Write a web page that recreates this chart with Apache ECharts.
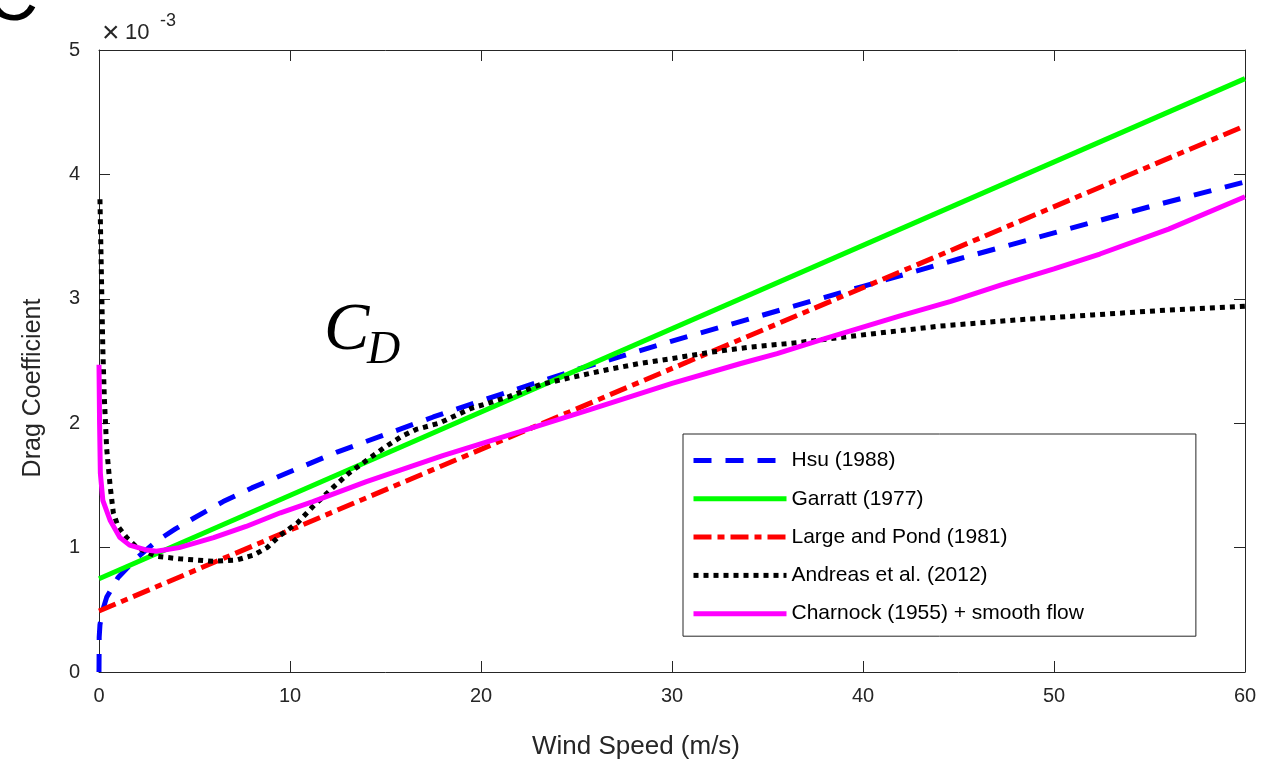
<!DOCTYPE html>
<html>
<head>
<meta charset="utf-8">
<title>Drag Coefficient</title>
<script src="https://cdn.jsdelivr.net/npm/echarts@6/dist/echarts.min.js"></script>
<style>
	html, body { margin: 0; padding: 0; background: #fff; }
	#chart { width: 1271px; height: 763px; }
</style>
</head>
<body>
<div id="chart"></div>
<script>
// values are in units of 1e-3 (the axis shows "x 10^-3")
const seriesNames = ["Hsu (1988)", "Garratt (1977)", "Large and Pond (1981)", "Andreas et al. (2012)", "Charnock (1955) + smooth flow"];
const xTicks = [0, 10, 20, 30, 40, 50, 60];
const yTicks = [0, 1, 2, 3, 4, 5];

const hsu = [
	[0, 0], [0.01, 0.28], [0.05, 0.38], [0.2, 0.5], [0.4, 0.6], [1, 0.76], [2, 0.92], [3, 1.05],
	[4, 1.15], [5, 1.24], [6.5, 1.37], [8, 1.48], [10, 1.61], [12.5, 1.77], [15, 1.91], [17.5, 2.05],
	[20, 2.18], [25, 2.43], [30, 2.66], [35, 2.88], [40, 3.1], [45, 3.32], [50, 3.53], [55, 3.74], [60, 3.94]
];
const garratt = [[0, 0.75], [60, 4.77]];
const largePond = [[0, 0.49], [60, 4.39]];
const andreas = [
	[0.05, 3.8], [0.1, 3.4], [0.15, 3.0], [0.2, 2.6], [0.28, 2.2], [0.4, 1.8], [0.58, 1.5], [0.75, 1.28],
	[1.0, 1.17], [1.45, 1.08], [2, 1.0], [3, 0.93], [4.2, 0.91], [6, 0.89], [7.2, 0.9], [8.1, 0.94],
	[8.8, 1.0], [9.5, 1.1], [10.4, 1.2], [11.2, 1.33], [12.3, 1.49], [13.1, 1.6], [14, 1.7], [14.9, 1.8],
	[15.8, 1.89], [16.6, 1.95], [17.8, 2.0], [19.5, 2.12], [21.4, 2.21], [23.1, 2.31], [24.8, 2.37],
	[26.6, 2.43], [28.3, 2.48], [30, 2.52], [32, 2.57], [34, 2.61], [36.7, 2.65], [40, 2.71], [44, 2.78],
	[48, 2.83], [52, 2.87], [56, 2.91], [60, 2.94]
];
const charnock = [
	[0, 2.47], [0.03, 2.0], [0.07, 1.6], [0.2, 1.38], [0.58, 1.22], [1.1, 1.08], [1.6, 1.02], [2.5, 0.98],
	[3, 0.97], [4.2, 1.0], [6, 1.08], [7.7, 1.17], [9.5, 1.28], [11.2, 1.37], [14, 1.53], [18, 1.74],
	[22, 1.93], [25.7, 2.11], [30, 2.32], [33.6, 2.48], [35.5, 2.56], [38, 2.68], [41.9, 2.86],
	[44.6, 2.98], [47.2, 3.11], [50, 3.24], [52.4, 3.36], [56, 3.56], [60, 3.82]
];

const axisColor = "#262626";
const font = "Liberation Sans, Arial, sans-serif";
const serif = "Liberation Serif, Times New Roman, serif";

const chart = echarts.init(document.getElementById("chart"), null, { renderer: "canvas" });

function axisCommon(pos, show, margin) {
	return {
		position: pos,
		axisLine: { show: true, onZero: false, lineStyle: { color: axisColor, width: 1 } },
		axisTick: { show: true, inside: true, length: 11, lineStyle: { color: axisColor, width: 1 } },
		axisLabel: { show: show, color: axisColor, fontSize: 20, fontFamily: font, margin: margin },
		splitLine: { show: false }
	};
}

const xBase = { type: "value", min: xTicks[0], max: xTicks[xTicks.length - 1], interval: 10 };
const yBase = { type: "value", min: yTicks[0], max: yTicks[yTicks.length - 1], interval: 1 };

const lineSeries = (name, data, color, type, width) => ({
	name: name,
	type: "line",
	data: data,
	symbol: "none",
	showSymbol: false,
	smooth: false,
	clip: true,
	lineStyle: { color: color, width: width, type: type, cap: "butt" },
	itemStyle: { color: color }
});

const option = {
	animation: false,
	grid: { left: 99, right: 26, top: 50, bottom: 91, containLabel: false },
	xAxis: [
		Object.assign({}, xBase, axisCommon("bottom", true, 14)),
		Object.assign({}, xBase, axisCommon("top", false, 8))
	],
	yAxis: [
		Object.assign({}, yBase, axisCommon("left", true, 19)),
		Object.assign({}, yBase, axisCommon("right", false, 8))
	],
	legend: {
		data: seriesNames,
		orient: "vertical",
		left: 683,
		top: 434,
		itemWidth: 93,
		itemHeight: 14,
		itemGap: 17.3,
		padding: [16, 112, 12, 8],
		borderColor: axisColor,
		borderWidth: 1,
		backgroundColor: "#fff",
		itemStyle: { opacity: 0 },
		lineStyle: { width: 5 },
		textStyle: { color: "#000", fontSize: 21, fontFamily: font }
	},
	graphic: [
		{ type: "text", left: 102, top: 19, style: { text: "\u00d7", fontSize: 30, fontFamily: font, fill: axisColor } },
		{ type: "text", left: 125, top: 22, style: { text: "10", fontSize: 22, fontFamily: font, fill: axisColor } },
		{ type: "text", left: 160, top: 12, style: { text: "-3", fontSize: 18, fontFamily: font, fill: axisColor } },
		{ type: "text", left: 324, top: 297, style: { text: "C", fontSize: 68, fontStyle: "italic", fontFamily: serif, fill: "#000" } },
		{ type: "text", left: 367, top: 328, style: { text: "D", fontSize: 46, fontStyle: "italic", fontFamily: serif, fill: "#000" } },
		{ type: "text", left: -14, top: -36, style: { text: "C", fontSize: 72, fontFamily: font, fill: "#000" } },
		{ type: "text", x: 636, y: 747, style: { text: "Wind Speed (m/s)", fontSize: 26, fontFamily: font, fill: axisColor, align: "center", verticalAlign: "middle" } },
		{ type: "text", x: 33, y: 388, rotation: Math.PI / 2, style: { text: "Drag Coefficient", fontSize: 25, fontFamily: font, fill: axisColor, align: "center", verticalAlign: "middle" } }
	],
	series: [
		lineSeries(seriesNames[0], hsu, "#0000ff", [18, 14], 5),
		lineSeries(seriesNames[1], garratt, "#00ff00", "solid", 5),
		lineSeries(seriesNames[2], largePond, "#ff0000", [18, 6, 7, 6], 5),
		lineSeries(seriesNames[3], andreas, "#000000", [5, 5], 5),
		lineSeries(seriesNames[4], charnock, "#ff00ff", "solid", 5)
	]
};

chart.setOption(option);
</script>
</body>
</html>
